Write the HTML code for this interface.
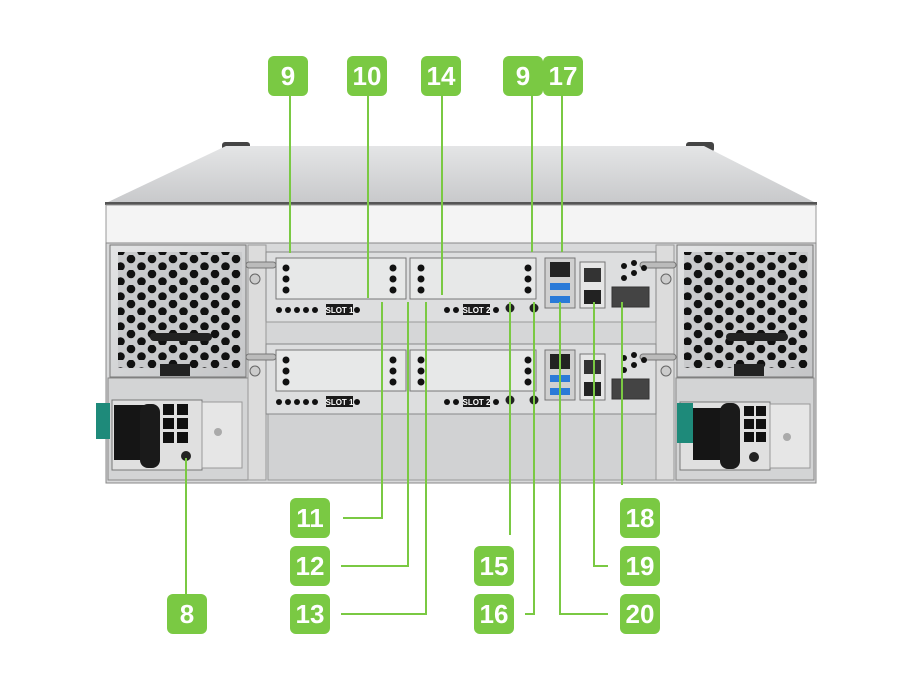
<!DOCTYPE html>
<html><head><meta charset="utf-8"><style>
html,body{margin:0;padding:0;background:#fff;}
svg{display:block;}
text{font-family:"Liberation Sans",sans-serif;}
</style></head><body>
<svg width="920" height="690" viewBox="0 0 920 690" xmlns="http://www.w3.org/2000/svg">
<defs>
<pattern id="hex" width="21" height="15" patternUnits="userSpaceOnUse">
<rect width="21" height="15" fill="#c9cacc"/>
<circle cx="5" cy="4" r="4.3" fill="#111"/>
<circle cx="15.5" cy="11.5" r="4.3" fill="#111"/>
</pattern>
<linearGradient id="top" x1="0" y1="0" x2="0" y2="1">
<stop offset="0" stop-color="#e4e5e6"/><stop offset="1" stop-color="#c8c9cb"/>
</linearGradient>
<linearGradient id="metal" x1="0" y1="0" x2="1" y2="1">
<stop offset="0" stop-color="#e3e4e5"/><stop offset="1" stop-color="#c4c5c7"/>
</linearGradient>
</defs>

<!-- top lid -->
<rect x="222" y="142" width="28" height="10" rx="3" fill="#444"/>
<rect x="686" y="142" width="28" height="10" rx="3" fill="#444"/>
<polygon points="226,146 704,146 816,203 106,203" fill="url(#top)"/>
<rect x="105" y="202" width="712" height="3" fill="#555"/>
<!-- face -->
<rect x="106" y="205" width="710" height="38" fill="#f4f4f4" stroke="#999" stroke-width="1"/>
<rect x="106" y="243" width="710" height="240" fill="#d8d9da" stroke="#888" stroke-width="1"/>

<!-- left fan -->
<rect x="110" y="245" width="136" height="132" fill="url(#metal)" stroke="#777"/>
<rect x="118" y="252" width="124" height="116" fill="url(#hex)"/>
<rect x="150" y="333" width="62" height="8" rx="4" fill="#222"/>
<rect x="160" y="364" width="30" height="12" fill="#222"/>
<!-- right fan -->
<rect x="677" y="245" width="136" height="132" fill="url(#metal)" stroke="#777"/>
<rect x="684" y="252" width="124" height="116" fill="url(#hex)"/>
<rect x="726" y="333" width="62" height="8" rx="4" fill="#222"/>
<rect x="734" y="364" width="30" height="12" fill="#222"/>

<!-- left PSU -->
<rect x="108" y="378" width="140" height="102" fill="#d3d4d5" stroke="#888"/>
<rect x="112" y="400" width="90" height="70" fill="#e0e0e0" stroke="#777"/>
<rect x="96" y="403" width="14" height="36" fill="#1e8a7a"/>
<rect x="114" y="405" width="38" height="55" fill="#151515"/>
<rect x="140" y="404" width="20" height="64" rx="8" fill="#1a1a1a"/>
<g fill="#111"><rect x="163" y="404" width="11" height="11"/><rect x="177" y="404" width="11" height="11"/><rect x="163" y="418" width="11" height="11"/><rect x="177" y="418" width="11" height="11"/><rect x="163" y="432" width="11" height="11"/><rect x="177" y="432" width="11" height="11"/></g>
<circle cx="186" cy="456" r="5" fill="#222"/>
<rect x="202" y="402" width="40" height="66" fill="#e6e6e6" stroke="#999"/>
<circle cx="218" cy="432" r="4" fill="#aaa"/>
<!-- right PSU -->
<rect x="676" y="378" width="138" height="102" fill="#d3d4d5" stroke="#888"/>
<rect x="680" y="402" width="90" height="68" fill="#e0e0e0" stroke="#777"/>
<rect x="677" y="403" width="16" height="40" fill="#1e8a7a"/>
<rect x="693" y="408" width="36" height="52" fill="#151515"/>
<rect x="720" y="403" width="20" height="66" rx="8" fill="#1a1a1a"/>
<g fill="#111"><rect x="744" y="406" width="10" height="10"/><rect x="756" y="406" width="10" height="10"/><rect x="744" y="419" width="10" height="10"/><rect x="756" y="419" width="10" height="10"/><rect x="744" y="432" width="10" height="10"/><rect x="756" y="432" width="10" height="10"/></g>
<circle cx="754" cy="457" r="5" fill="#222"/>
<rect x="770" y="404" width="40" height="64" fill="#e6e6e6" stroke="#999"/>
<circle cx="787" cy="437" r="4" fill="#aaa"/>

<!-- rails -->
<rect x="248" y="245" width="18" height="235" fill="#dcdcdc" stroke="#999"/>
<rect x="656" y="245" width="18" height="235" fill="#dcdcdc" stroke="#999"/>

<!-- center bottom panel -->
<rect x="268" y="410" width="388" height="70" fill="#d1d2d3" stroke="#999"/>

<!-- controller modules -->
<g id="mod">
<rect x="266" y="252" width="390" height="70" fill="#dddedf" stroke="#888"/>
<rect x="246" y="262" width="30" height="6" rx="3" fill="#bbb" stroke="#777"/>
<rect x="640" y="262" width="36" height="6" rx="3" fill="#bbb" stroke="#777"/>
<circle cx="255" cy="279" r="5" fill="#ccc" stroke="#666"/>
<circle cx="666" cy="279" r="5" fill="#ccc" stroke="#666"/>
<rect x="276" y="258" width="130" height="41" fill="#e7e8e8" stroke="#777"/>
<rect x="410" y="258" width="126" height="41" fill="#e7e8e8" stroke="#777"/>
<g fill="#111">
<circle cx="286" cy="268" r="3.5"/><circle cx="286" cy="279" r="3.5"/><circle cx="286" cy="290" r="3.5"/>
<circle cx="393" cy="268" r="3.5"/><circle cx="393" cy="279" r="3.5"/><circle cx="393" cy="290" r="3.5"/>
<circle cx="421" cy="268" r="3.5"/><circle cx="421" cy="279" r="3.5"/><circle cx="421" cy="290" r="3.5"/>
<circle cx="528" cy="268" r="3.5"/><circle cx="528" cy="279" r="3.5"/><circle cx="528" cy="290" r="3.5"/>
<circle cx="279" cy="310" r="3"/><circle cx="288" cy="310" r="3"/><circle cx="297" cy="310" r="3"/><circle cx="306" cy="310" r="3"/><circle cx="315" cy="310" r="3"/>
<circle cx="357" cy="310" r="3"/><circle cx="447" cy="310" r="3"/><circle cx="456" cy="310" r="3"/><circle cx="496" cy="310" r="3"/>
</g>
<rect x="326" y="304" width="27" height="11" fill="#1a1a1a"/>
<text x="339.5" y="313" font-size="8" font-weight="bold" fill="#fff" text-anchor="middle">SLOT 1</text>
<rect x="463" y="304" width="27" height="11" fill="#1a1a1a"/>
<text x="476.5" y="313" font-size="8" font-weight="bold" fill="#fff" text-anchor="middle">SLOT 2</text>
<circle cx="510" cy="308" r="4.5" fill="#222"/><circle cx="534" cy="308" r="4.5" fill="#222"/>
<rect x="545" y="258" width="30" height="50" fill="#d0d0d0" stroke="#777"/>
<rect x="550" y="262" width="20" height="15" fill="#222"/>
<rect x="550" y="283" width="20" height="7" fill="#2a7ad8"/>
<rect x="550" y="296" width="20" height="7" fill="#2a7ad8"/>
<rect x="580" y="262" width="25" height="46" fill="#e6e6e6" stroke="#777"/>
<rect x="584" y="268" width="17" height="14" fill="#333"/>
<rect x="584" y="290" width="17" height="14" fill="#222"/>
<rect x="612" y="287" width="37" height="20" fill="#444" stroke="#333"/>
<circle cx="624" cy="266" r="3" fill="#111"/><circle cx="634" cy="263" r="3" fill="#111"/><circle cx="634" cy="273" r="3" fill="#111"/><circle cx="644" cy="268" r="3" fill="#111"/><circle cx="624" cy="278" r="3" fill="#111"/>
</g>
<rect x="266" y="322" width="390" height="24" fill="#d5d6d7" stroke="#999"/>
<use href="#mod" transform="translate(0,92)"/>

<!-- connector lines -->
<g stroke="#7ac943" stroke-width="2" fill="none">
<polyline points="290,96 290,253"/>
<polyline points="368,96 368,298"/>
<polyline points="442,96 442,295"/>
<polyline points="532,96 532,252"/>
<polyline points="562,96 562,252"/>
<polyline points="382,302 382,518 343,518"/>
<polyline points="408,302 408,566 341,566"/>
<polyline points="426,302 426,614 341,614"/>
<polyline points="510,302 510,535"/>
<polyline points="534,302 534,614 525,614"/>
<polyline points="560,302 560,614 608,614"/>
<polyline points="594,302 594,566 608,566"/>
<polyline points="622,302 622,485"/>
<polyline points="186,458 186,594"/>
</g>

<!-- labels -->
<g font-size="26" font-weight="bold" fill="#fff" text-anchor="middle">
<rect x="268" y="56" width="40" height="40" rx="6" fill="#7ac943"/><text x="288" y="85">9</text>
<rect x="347" y="56" width="40" height="40" rx="6" fill="#7ac943"/><text x="367" y="85">10</text>
<rect x="421" y="56" width="40" height="40" rx="6" fill="#7ac943"/><text x="441" y="85">14</text>
<rect x="503" y="56" width="40" height="40" rx="6" fill="#7ac943"/><text x="523" y="85">9</text>
<rect x="543" y="56" width="40" height="40" rx="6" fill="#7ac943"/><text x="563" y="85">17</text>
<rect x="290" y="498" width="40" height="40" rx="6" fill="#7ac943"/><text x="310" y="527">11</text>
<rect x="290" y="546" width="40" height="40" rx="6" fill="#7ac943"/><text x="310" y="575">12</text>
<rect x="290" y="594" width="40" height="40" rx="6" fill="#7ac943"/><text x="310" y="623">13</text>
<rect x="474" y="546" width="40" height="40" rx="6" fill="#7ac943"/><text x="494" y="575">15</text>
<rect x="474" y="594" width="40" height="40" rx="6" fill="#7ac943"/><text x="494" y="623">16</text>
<rect x="620" y="498" width="40" height="40" rx="6" fill="#7ac943"/><text x="640" y="527">18</text>
<rect x="620" y="546" width="40" height="40" rx="6" fill="#7ac943"/><text x="640" y="575">19</text>
<rect x="620" y="594" width="40" height="40" rx="6" fill="#7ac943"/><text x="640" y="623">20</text>
<rect x="167" y="594" width="40" height="40" rx="6" fill="#7ac943"/><text x="187" y="623">8</text>
</g>
</svg>
</body></html>
